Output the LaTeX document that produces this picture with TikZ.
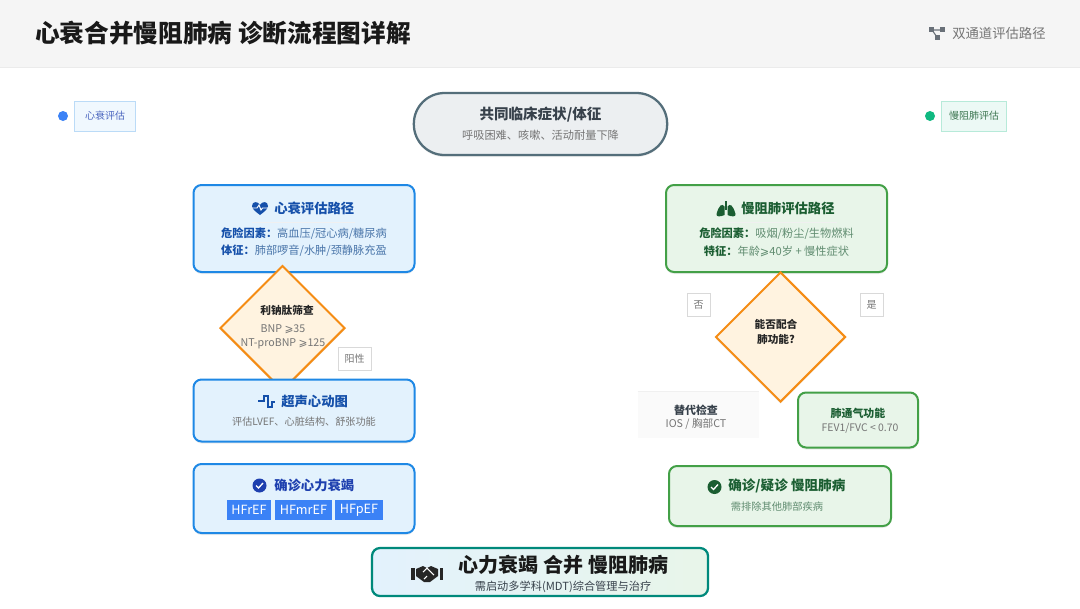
\documentclass[tikz,border=0pt]{standalone}
\usepackage{fontspec}
\setmainfont{Noto Sans CJK SC}
\newfontfamily\gefont{DejaVu Sans}
\usepackage{xcolor}
\definecolor{hdrgray}{RGB}{245, 245, 245}
\definecolor{hfblue}{RGB}{30, 136, 229}
\definecolor{hfblueb}{RGB}{227, 242, 253}
\definecolor{hfnavy}{RGB}{21, 80, 170}
\definecolor{hfdeep}{RGB}{30, 64, 175}
\definecolor{hfink}{RGB}{74, 118, 170}
\definecolor{hftag}{RGB}{59, 130, 246}
\definecolor{copdgreen}{RGB}{67, 160, 71}
\definecolor{copdgreenb}{RGB}{232, 245, 233}
\definecolor{copddark}{RGB}{27, 94, 50}
\definecolor{copdink}{RGB}{96, 140, 112}
\definecolor{copddot}{RGB}{16, 185, 129}
\definecolor{dmorange}{RGB}{245, 140, 20}
\definecolor{dmorangeb}{RGB}{255, 243, 224}
\definecolor{pillgray}{RGB}{84, 110, 122}
\definecolor{pillgrayb}{RGB}{236, 239, 241}
\definecolor{mdtteal}{RGB}{0, 137, 123}
\definecolor{txtgray}{RGB}{117, 117, 117}
\definecolor{txtdark}{RGB}{55, 65, 75}
\usetikzlibrary{shapes.geometric, shadows}
\newcommand{\gesym}{{\gefont ⩾}}

\begin{document}
\begin{tikzpicture}[
    x=0.75pt, y=-0.75pt,
    softshadow/.style={drop shadow={shadow xshift=0pt, shadow yshift=-1.5pt, opacity=0.07, fill=black}},
    card/.style={rectangle, rounded corners=6pt, line width=1.5pt, inner sep=0pt, softshadow},
    bluecard/.style={card, draw=hfblue, fill=hfblueb},
    greencard/.style={card, draw=copdgreen, fill=copdgreenb},
    decision/.style={diamond, aspect=1, inner sep=0pt, line width=1.5pt, draw=dmorange, fill=dmorangeb, softshadow},
    yesno/.style={rectangle, draw=black!15, fill=white, inner sep=0pt, minimum width=17.25pt, minimum height=17.25pt, font=\fontsize{7.5}{9}\selectfont, text=txtgray},
    legendbox/.style={rectangle, draw, inner sep=0pt, minimum height=22.5pt, font=\fontsize{7.5}{9}\selectfont},
    cardtitle/.style={inner sep=0pt, font=\fontsize{10}{12}\selectfont\bfseries},
    cardline/.style={font=\fontsize{8.4}{10}\selectfont},
    subline/.style={font=\fontsize{8}{10}\selectfont, text=txtgray},
    hftype/.style={rectangle, fill=hftag, inner sep=0pt, minimum height=15pt, text=white, font=\fontsize{9.5}{11}\selectfont}
]

% === Fondo y cabecera ===
\useasboundingbox (0,0) rectangle (1080,608);
\fill[white] (0,0) rectangle (1080,608);
\fill[hdrgray] (0,0) rectangle (1080,67);
\draw[black!8] (0,67) -- (1080,67);
\node[anchor=west, inner sep=0pt, font=\fontsize{18.5}{22}\selectfont\bfseries, text=black!90] (title) at (35,33) {心衰合并慢阻肺病 诊断流程图详解};
\node[anchor=west, inner sep=0pt, font=\fontsize{10}{12}\selectfont, text=txtgray] (pathname) at (952,33) {双通道评估路径};

% icono de red
\begin{scope}[shift={(937,33)}, txtdark!75]
    \draw[line width=0.8pt] (-5,-3) -- (0,4) (-5,-3) -- (5,-3);
    \fill (-8,-6) rectangle (-3,-1);
    \fill (3,-6) rectangle (8,-1);
    \fill (-2.5,2) rectangle (2.5,7);
\end{scope}

% === Leyenda ===
\fill[hftag] (63,116) circle (5);
\node[legendbox, draw=hfblue!30, fill=hfblueb!55, minimum width=46pt, text=hfdeep!80] (heartlegend) at (105,116) {心衰评估};
\fill[copddot] (930,116) circle (5);
\node[legendbox, draw=copddot!30, fill=copddot!8, minimum width=49pt, text=copddark!85] (lunglegend) at (974,116) {慢阻肺评估};

% === Sintomas comunes ===
\node[rectangle, rounded corners=23pt, line width=1.7pt, draw=pillgray, fill=pillgrayb, minimum width=190pt, minimum height=46.5pt, inner sep=0pt, softshadow] (symptoms) at (540.5,124) {};
\node[font=\fontsize{10.9}{13}\selectfont\bfseries, text=txtdark] (symptomstitle) at (540.5,115) {共同临床症状/体征};
\node[subline, font=\fontsize{8.4}{10}\selectfont] (symptomstext) at (540.5,135) {呼吸困难、咳嗽、活动耐量下降};

% === Ruta izquierda ===
\node[bluecard, minimum width=165.75pt, minimum height=65.25pt] (heartcard) at (304,228.5) {};
\draw[black!6] (252,222) -- (355,222);
\node[cardtitle, anchor=west, text=hfnavy] (hearttitle) at (274,208) {心衰评估路径};
\node[cardline, text=hfink] (heartrisk) at (304,234) {\textcolor{hfnavy}{\bfseries 危险因素：}高血压/冠心病/糖尿病};
\node[cardline, text=hfink] (heartsign) at (304,251) {\textcolor{hfnavy}{\bfseries 体征：}肺部啰音/水肿/颈静脉充盈};

% icono corazon
\begin{scope}[shift={(260,208)}]
    \fill[hfnavy] (0,7) .. controls (-4,4) and (-8,1) .. (-8,-2) .. controls (-8,-7) and (-2,-7) .. (0,-3) .. controls (2,-7) and (8,-7) .. (8,-2) .. controls (8,1) and (4,4) .. (0,7) -- cycle;
    \draw[white, line width=0.7pt] (-8,0) -- (-3,0) -- (-1,-3) -- (1,2) -- (2.5,0) -- (8,0);
\end{scope}

\node[decision, minimum width=93.75pt, minimum height=93.75pt] (bnp) at (282.5,328) {};
\node[font=\fontsize{8}{10}\selectfont\bfseries, text=black!85] (bnptitle) at (287,310) {利钠肽筛查};
\node[subline, align=center, font=\fontsize{8}{10.5}\selectfont] (bnptext) at (283,337) {BNP \gesym 35\\NT-proBNP \gesym 125};
\node[yesno, minimum width=24.75pt] (positive) at (354.5,358.5) {阳性};

\node[bluecard, minimum width=165.75pt, minimum height=46.5pt] (echo) at (304,410.5) {};
\node[cardtitle, anchor=west, text=hfnavy] (echotitle) at (281,401) {超声心动图};
\node[subline, font=\fontsize{7.6}{10}\selectfont] (echotext) at (304,422) {评估LVEF、心脏结构、舒张功能};
\draw[hfnavy, line width=1.1pt] (258,401) -- (264,401) -- (264,396) -- (268,396) -- (268,407) -- (272,407) -- (272,402) -- (275,402);

\node[bluecard, minimum width=165.75pt, minimum height=51.75pt] (hfconfirm) at (304,498.5) {};
\node[cardtitle, anchor=west, text=hfdeep] (hfconfirmtitle) at (274,485) {确诊心力衰竭};
\fill[hfdeep] (259.5,485.5) circle (7);
\draw[white, line width=1pt] (256,485.5) -- (258.5,488) -- (263,483);
\node[hftype, minimum width=33pt] (hfref) at (249,510) {HFrEF};
\node[hftype, minimum width=42.75pt] (hfmref) at (303.5,510) {HFmrEF};
\node[hftype, minimum width=36pt] (hfpef) at (359,510) {HFpEF};

% === Ruta derecha ===
\node[greencard, minimum width=165.75pt, minimum height=65.25pt] (lungcard) at (776.5,228.5) {};
\draw[black!6] (717,222) -- (837,222);
\node[cardtitle, anchor=west, text=copddark] (lungtitle) at (741,208) {慢阻肺评估路径};
\node[cardline, text=copdink] (lungrisk) at (776.5,234) {\textcolor{copddark}{\bfseries 危险因素：}吸烟/粉尘/生物燃料};
\node[cardline, text=copdink] (lungsign) at (776.5,251) {\textcolor{copddark}{\bfseries 特征：}年龄\gesym 40岁 + 慢性症状};

% icono pulmones
\begin{scope}[shift={(726,209)}, copddark]
    \fill (-1.5,-2.5) .. controls (-4,-6) and (-7,-4) .. (-9.5,5) .. controls (-10,8) and (-6,8) .. (-1.5,6) -- cycle;
    \fill (1.5,-2.5) .. controls (4,-6) and (7,-4) .. (9.5,5) .. controls (10,8) and (6,8) .. (1.5,6) -- cycle;
    \draw[line width=1.1pt] (0,-8) -- (0,1);
\end{scope}

\node[decision, minimum width=97.5pt, minimum height=97.5pt] (spiroq) at (780.5,337) {};
\node[font=\fontsize{8}{11.5}\selectfont\bfseries, text=black!85, align=center] (spiroqtext) at (776,332) {能否配合\\肺功能?};
\node[yesno] (nolabel) at (698.5,304.5) {否};
\node[yesno] (yeslabel) at (871.5,304.5) {是};

\node[rectangle, fill=black!2, minimum width=91pt, minimum height=34.5pt, inner sep=0pt] (altcheck) at (698.5,415) {};
\draw[black!6] (altcheck.north west) -- (altcheck.north east);
\node[font=\fontsize{8.2}{10}\selectfont\bfseries, text=txtdark] (altchecktitle) at (696,410) {替代检查};
\node[subline] (altchecktext) at (696,424) {IOS / 胸部CT};

\node[greencard, minimum width=90pt, minimum height=41.25pt] (spiro) at (858,420) {};
\node[font=\fontsize{8.2}{10}\selectfont\bfseries, text=copddark] (spirotitle) at (858,413) {肺通气功能};
\node[subline, font=\fontsize{7.8}{10}\selectfont] (spirotext) at (860,428) {FEV1/FVC < 0.70};

\node[greencard, minimum width=166.5pt, minimum height=45pt] (copdconfirm) at (780,496) {};
\node[cardtitle, anchor=west, font=\fontsize{10.2}{12}\selectfont\bfseries, text=copddark] (copdconfirmtitle) at (728,486) {确诊/疑诊 慢阻肺病};
\fill[copddark] (714.5,487) circle (7);
\draw[white, line width=1pt] (711,487) -- (713.5,489.5) -- (718,484.5);
\node[subline, font=\fontsize{7.7}{10}\selectfont, text=copdink] (copdconfirmtext) at (777,507) {需排除其他肺部疾病};

% === Resultado comun ===
\node[rectangle, rounded corners=6pt, line width=1.7pt, draw=mdtteal, left color=hfblueb, right color=copdgreenb, minimum width=252pt, minimum height=36pt, inner sep=0pt] (mdt) at (540,572) {};
\node[font=\fontsize{15}{17}\selectfont\bfseries, text=black!90] (mdttitle) at (563.5,565) {心力衰竭 合并 慢阻肺病};
\node[subline, font=\fontsize{8.4}{10}\selectfont, text=txtdark] (mdttext) at (563,587) {需启动多学科(MDT)综合管理与治疗};

% icono apreton de manos
\begin{scope}[shift={(427,573)}, black!85]
    \fill (-16,-5) rectangle (-12.5,7);
    \fill (12.5,-5) rectangle (16,7);
    \fill (-11,-4) -- (-4,-7) -- (0,-5) -- (4,-7) -- (11,-4) -- (11,3) -- (3,9) -- (-3,9) -- (-11,3) -- cycle;
    \draw[white, line width=0.8pt] (-4,-1) -- (0,-5) -- (7,2) (-3,6) -- (0,3);
\end{scope}

\end{tikzpicture}
\end{document}
